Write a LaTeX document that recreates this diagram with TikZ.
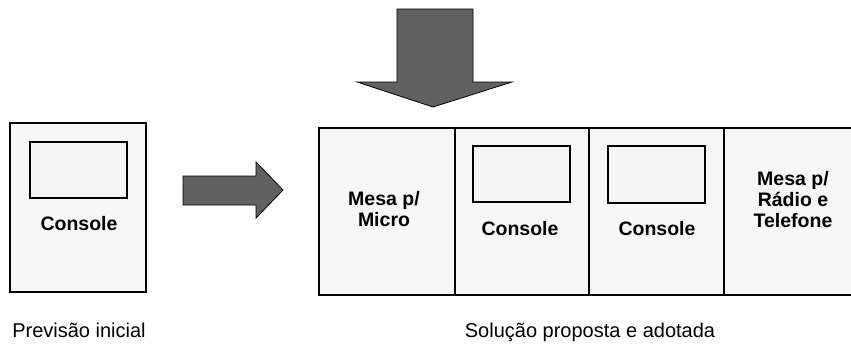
\documentclass[tikz,border=0pt]{standalone}
\usepackage{fontspec}
\setmainfont{Liberation Sans}
\usepackage{tikz}
\tikzset{
    panel/.style={draw=black, line width=1.1pt, fill=black!3},
    screen/.style={draw=black, line width=1.4pt, fill=black!4},
    bigarrow/.style={draw=black, line width=0.8pt, fill=black!62},
    boxtext/.style={align=center, inner sep=0pt, font=\fontsize{19.5}{21}\selectfont\bfseries},
    caption/.style={inner sep=0pt, font=\fontsize{20}{22}\selectfont}
}

\begin{document}
\begin{tikzpicture}[x=1pt, y=-1pt]
          \useasboundingbox (0,0) rectangle (851,348);
          % initial layout
          \draw [panel] (10,123) rectangle (146,292);
          \draw [screen] (30,142) rectangle (127,198);
          \node [boxtext] (con0) at (79,224) {Console};
          \node [caption] (prev) at (79,330) {Previsão inicial};
          % arrow to the right
          \draw [bigarrow] (183,176) -- (256,176) -- (256,162) -- (283,190)
                -- (256,218) -- (256,205) -- (183,205) -- cycle;
          % arrow from above
          \draw [bigarrow] (397,9) -- (473,9) -- (473,82) -- (512,82)
                -- (433,107) -- (357,82) -- (397,82) -- cycle;
          % adopted layout, runs past the right edge
          \draw [panel] (319,128) rectangle (855,295);
          \draw [line width=1.1pt] (455,128) -- (455,295);
          \draw [line width=1.1pt] (589,128) -- (589,295);
          \draw [line width=1.1pt] (724,128) -- (724,295);
          \draw [screen] (473,146) rectangle (570,202);
          \draw [screen] (608,146) rectangle (705,203);
          \node [boxtext] (micro) at (384,209) {Mesa p/\\Micro};
          \node [boxtext] (con1) at (520,229) {Console};
          \node [boxtext] (con2) at (657,229) {Console};
          \node [boxtext] (radio) at (793,200) {Mesa p/\\Rádio e\\Telefone};
          \node [caption] (sol) at (590,332) {Solução proposta e adotada};
        \end{tikzpicture}
\end{document}
